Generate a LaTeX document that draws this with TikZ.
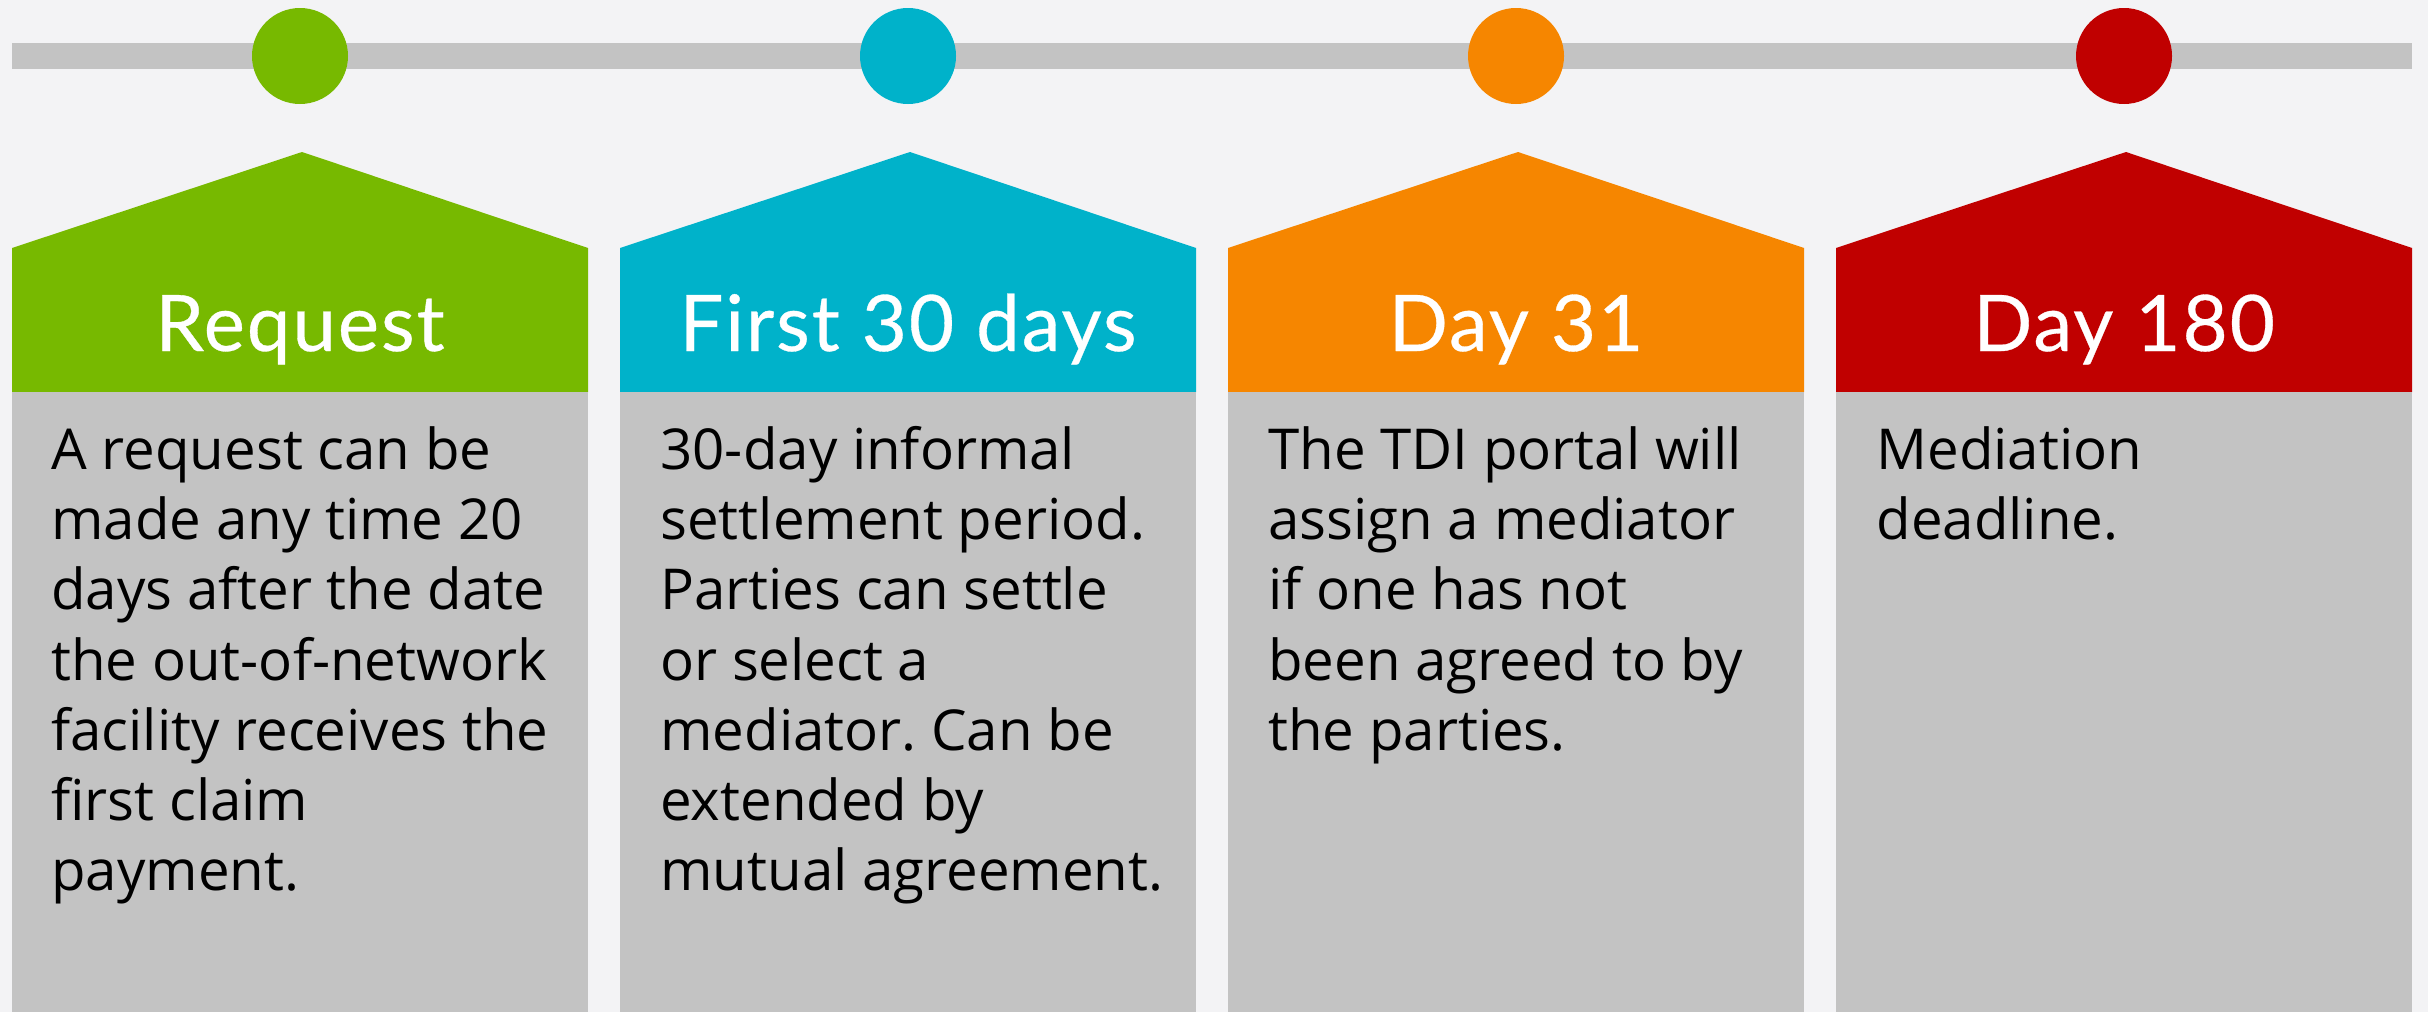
\documentclass[tikz,border=0pt]{standalone}
\usepackage{fontspec}
\setmainfont{Open Sans}
\newfontfamily\headfont[LetterSpace=2.5, FakeBold=0.4]{Lato}
\usetikzlibrary{positioning}
\frenchspacing

\definecolor{pagebg}{RGB}{243,243,245}
\definecolor{linegray}{RGB}{195,195,195}
\definecolor{reqgreen}{RGB}{119,185,0}
\definecolor{firstblue}{RGB}{0,178,202}
\definecolor{dayorange}{RGB}{246,134,0}
\definecolor{dayred}{RGB}{192,0,0}

\tikzset{
  dot/.style = {circle, minimum size=48pt, inner sep=0pt},
  headtext/.style = {font=\headfont\fontsize{39}{39}\selectfont, text=white, anchor=base, inner sep=0pt},
  bodytext/.style = {font=\fontsize{28.2}{35.1}\selectfont, anchor=north west, inner sep=0pt, align=left}
}

\begin{document}
\begin{tikzpicture}[x=0.5pt, y=-0.5pt]
\fill[pagebg] (0,0) rectangle (2428,1012);
\useasboundingbox (0,0) rectangle (2428,1012);

% timeline
\fill[linegray] (12,43) rectangle (2412,69);
\node[dot, fill=reqgreen]   (dot1) at (300,56)  {};
\node[dot, fill=firstblue]  (dot2) at (908,56)  {};
\node[dot, fill=dayorange]  (dot3) at (1516,56) {};
\node[dot, fill=dayred]     (dot4) at (2124,56) {};

% headers
\fill[reqgreen]  (12,392)   -- (12,248)   -- (302,152)  -- (588,248)  -- (588,392)  -- cycle;
\fill[firstblue] (620,392)  -- (620,248)  -- (910,152)  -- (1196,248) -- (1196,392) -- cycle;
\fill[dayorange] (1228,392) -- (1228,248) -- (1518,152) -- (1804,248) -- (1804,392) -- cycle;
\fill[dayred]    (1836,392) -- (1836,248) -- (2126,152) -- (2412,248) -- (2412,392) -- cycle;

% bodies
\fill[linegray] (12,392)   rectangle (588,1012);
\fill[linegray] (620,392)  rectangle (1196,1012);
\fill[linegray] (1228,392) rectangle (1804,1012);
\fill[linegray] (1836,392) rectangle (2412,1012);

\node[headtext] (head1) at (300,351)  {Request};
\node[headtext] (head2) at (908,351)  {First 30 days};
\node[headtext] (head3) at (1516,351) {Day 31};
\node[headtext] (head4) at (2124,351) {Day 180};

\node[bodytext] (text1) at (51,420) {\strut A request can be\\made any time 20\\days after the date\\the out-of-network\\facility receives the\\first claim\\payment.};
\node[bodytext] (text2) at (660,420) {\strut 30-day informal\\settlement period.\\Parties can settle\\or select a\\mediator. Can be\\extended by\\mutual agreement.};
\node[bodytext] (text3) at (1268,420) {\strut The TDI portal will\\assign a mediator\\if one has not\\been agreed to by\\the parties.};
\node[bodytext] (text4) at (1876,420) {\strut Mediation\\deadline.};
\end{tikzpicture}
\end{document}
